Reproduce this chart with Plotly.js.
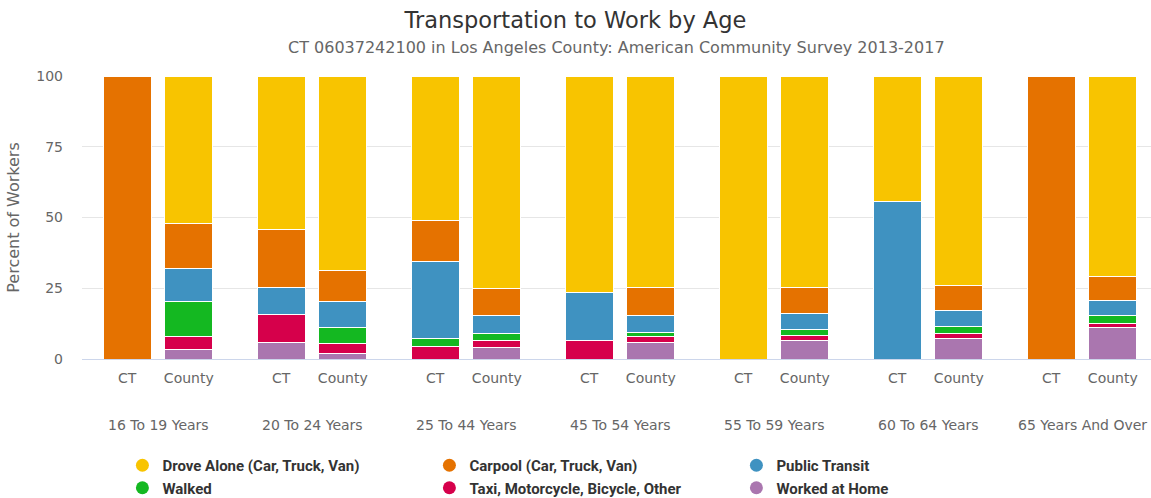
<!DOCTYPE html>
<html>
<head>
<meta charset="utf-8">
<script src="https://cdn.plot.ly/plotly-3.0.1.min.js"></script>
<style>html,body{margin:0;padding:0;background:#fff;overflow:hidden}#chart{width:1151px;height:498px}</style>
</head>
<body>
<div id="chart"></div>
<script>
// ---- data ----
var ageGroups = ["16 To 19 Years","20 To 24 Years","25 To 44 Years","45 To 54 Years","55 To 59 Years","60 To 64 Years","65 Years And Over"];
var geographies = ["CT","County"];
var modes = ["Drove Alone (Car, Truck, Van)","Carpool (Car, Truck, Van)","Public Transit","Walked","Taxi, Motorcycle, Bicycle, Other","Worked at Home"];
var colors = ["#f8c400","#e57200","#3f92c1","#14b821","#d6004b","#aa76af"];

// CT values per age group
var ctDrove   = [0,   54.1, 50.9, 76.4, 100, 44.3, 0];
var ctCarpool = [100, 20.5, 14.8, 0,    0,   0,    100];
var ctTransit = [0,   9.7,  27.0, 17.2, 0,   55.7, 0];
var ctWalked  = [0,   0,    2.8,  0,    0,   0,    0];
var ctTaxi    = [0,   9.8,  4.5,  6.4,  0,   0,    0];
var ctHome    = [0,   5.9,  0,    0,    0,   0,    0];

// County values per age group
var coDrove   = [52.2, 68.9, 75.0, 74.6, 74.6, 74.1, 70.8];
var coCarpool = [15.9, 10.7, 9.5,  10.2, 9.3,  8.8,  8.4];
var coTransit = [11.6, 9.3,  6.4,  5.8,  5.6,  5.7,  5.3];
var coWalked  = [12.4, 5.7,  2.4,  1.6,  2.3,  2.3,  2.8];
var coTaxi    = [4.7,  3.4,  2.8,  2.0,  1.8,  1.8,  1.7];
var coHome    = [3.2,  2.0,  3.9,  5.8,  6.4,  7.3,  11.0];

var ctSeries = [ctDrove, ctCarpool, ctTransit, ctWalked, ctTaxi, ctHome];
var coSeries = [coDrove, coCarpool, coTransit, coWalked, coTaxi, coHome];

// ---- build ----
var offset = 0.2, barW = 0.312;
var xs = [], tickText = [];
ageGroups.forEach(function(g, i){
  xs.push(i - offset); tickText.push(geographies[0]);
  xs.push(i + offset); tickText.push(geographies[1]);
});

var traces = [];
for (var m = modes.length - 1; m >= 0; m--) {
  var ys = [];
  ageGroups.forEach(function(g, i){ ys.push(ctSeries[m][i]); ys.push(coSeries[m][i]); });
  traces.push({
    type: 'bar', x: xs, y: ys, width: barW, name: modes[m], showlegend: false,
    marker: {color: colors[m], line: {color: '#ffffff', width: 1}},
    hoverinfo: 'y+name'
  });
}
modes.forEach(function(name, m){
  traces.push({
    type: 'scatter', mode: 'markers', x: [null], y: [null], name: name,
    marker: {color: colors[m], size: 13, symbol: 'circle'}, hoverinfo: 'skip'
  });
});

var annotations = ageGroups.map(function(g, i){
  return {text: g, x: i, xref: 'x', y: -0.233, yref: 'paper', yanchor: 'middle', xanchor: 'center',
          showarrow: false, font: {family: 'DejaVu Sans', size: 14, color: '#666666'}};
});
annotations.push({
  text: 'CT 06037242100 in Los Angeles County: American Community Survey 2013-2017',
  x: 0.5, xref: 'paper', xanchor: 'center', y: 1.099, yref: 'paper', yanchor: 'middle',
  showarrow: false, font: {family: 'DejaVu Sans', size: 16, color: '#666666'}
});

var layout = {
  width: 1151, height: 498,
  margin: {l: 82, r: 0, t: 76, b: 139, pad: 0, autoexpand: false},
  paper_bgcolor: '#ffffff', plot_bgcolor: '#ffffff',
  barmode: 'stack',
  font: {family: 'DejaVu Sans', color: '#666666', size: 14},
  title: {text: 'Transportation to Work by Age', x: 0.5, xanchor: 'center', y: 1 - 20/498, yanchor: 'middle',
          font: {family: 'DejaVu Sans', size: 22.5, color: '#333333'}},
  xaxis: {
    range: [-0.4935, 6.448], tickvals: xs, ticktext: tickText, showgrid: false, zeroline: false,
    showline: true, linecolor: '#ccd6eb', linewidth: 1, ticks: '', ticklabelstandoff: 6,
    tickfont: {family: 'DejaVu Sans', size: 14, color: '#666666'}, fixedrange: true
  },
  yaxis: {
    range: [0, 100], tickvals: [0,25,50,75,100], showgrid: true, gridcolor: '#e6e6e6', gridwidth: 1,
    zeroline: false, showline: false, ticks: '', ticklabelstandoff: 18,
    tickfont: {family: 'DejaVu Sans', size: 14, color: '#666666'},
    title: {text: 'Percent of Workers', standoff: 12, font: {family: 'DejaVu Sans', size: 16, color: '#666666'}},
    fixedrange: true
  },
  legend: {
    orientation: 'h', x: 0.0378, xanchor: 'left', y: -0.318, yanchor: 'top',
    entrywidth: 262, entrywidthmode: 'pixels', traceorder: 'normal',
    font: {family: 'Roboto', size: 15, color: '#333333', weight: 'bold'},
    bgcolor: 'rgba(0,0,0,0)', tracegroupgap: 0
  },
  annotations: annotations,
  showlegend: true
};

Plotly.newPlot('chart', traces, layout, {displayModeBar: false, staticPlot: true});
</script>
</body>
</html>
